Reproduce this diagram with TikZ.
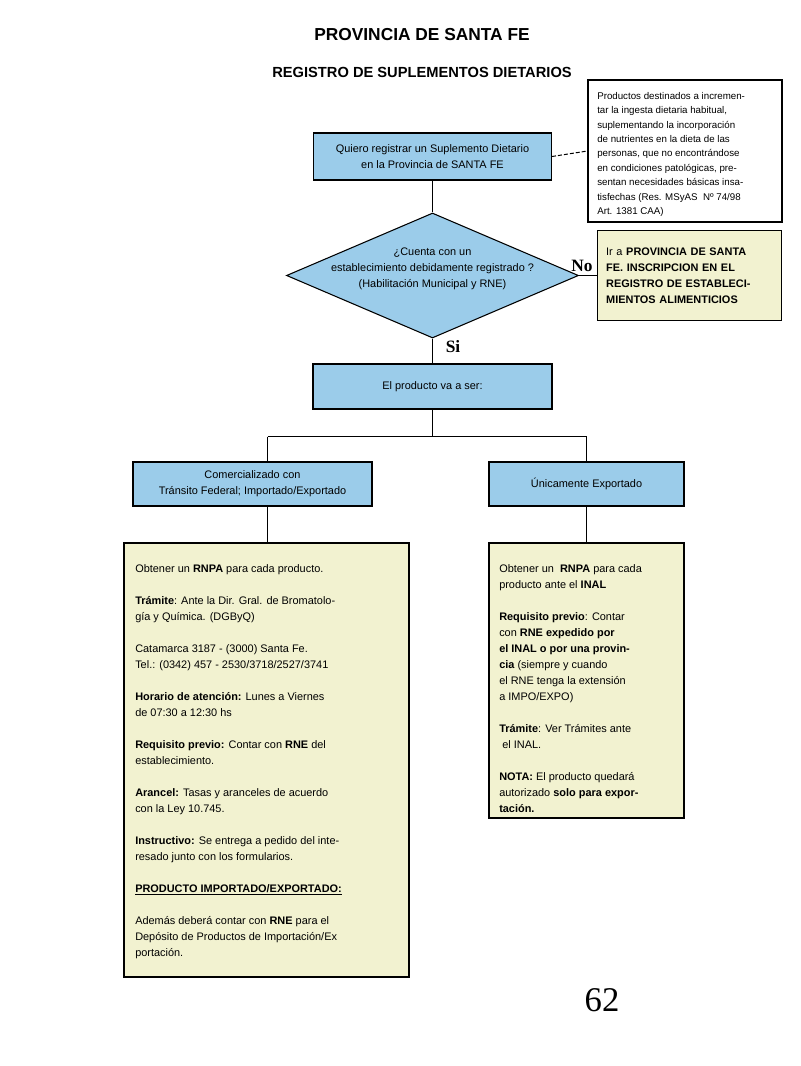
\documentclass[tikz,border=0pt]{standalone}
\usepackage{fontspec}
\setmainfont{Liberation Sans}
\newfontfamily\timesfont{Liberation Serif}
\usetikzlibrary{shapes.geometric}

\definecolor{celeste}{RGB}{155,204,234}
\definecolor{crema}{RGB}{242,242,208}

\tikzset{
  caja/.style={draw, line width=0.8pt, fill=celeste, inner sep=0pt, align=center,
    font=\fontsize{8.2}{12}\selectfont},
  hoja/.style={draw, line width=0.8pt, fill=crema, inner sep=0pt},
  texto/.style={inner sep=0pt, align=left, anchor=north west,
    font=\fontsize{8.2}{12}\selectfont},
  linea/.style={line width=0.75pt},
  etiqueta/.style={font=\timesfont\fontsize{13}{15}\selectfont\bfseries},
}

\begin{document}
\begin{tikzpicture}[x=0.75pt,y=-0.75pt]
            \useasboundingbox (0,0) rectangle (800,1066);
            % titulos
            \node[font=\fontsize{13}{15}\selectfont\bfseries] (titulo) at (422,35) {PROVINCIA DE SANTA FE};
            \node[font=\fontsize{11}{13}\selectfont\bfseries] (subtitulo) at (422,72) {REGISTRO DE SUPLEMENTOS DIETARIOS};
            % inicio y definicion
            \node[caja, minimum width=178.5pt, minimum height=35.25pt] (quiero) at (432.5,156.5)
                {Quiero registrar un Suplemento Dietario\\en la Provincia de SANTA FE};
            \node[draw, line width=0.8pt, fill=white, minimum width=145.5pt, minimum height=106.5pt] (nota) at (685,151) {};
            \node[texto, font=\fontsize{7.3}{10.8}\selectfont] (notatexto) at (597,92)
                {Productos destinados a incremen-\\tar la ingesta dietaria habitual,\\suplementando la incorporación\\de nutrientes en la dieta de las\\personas, que no encontrándose\\en condiciones patológicas, pre-\\sentan necesidades básicas insa-\\tisfechas (Res. MSyAS~ Nº 74/98\\Art. 1381 CAA)};
            % pregunta
            \node[diamond, draw, line width=0.8pt, fill=celeste, inner sep=0pt,
                  minimum width=219pt, minimum height=93.75pt] (cuenta) at (432.5,275.5) {};
            \node[align=center, inner sep=0pt, font=\fontsize{8.2}{12}\selectfont] (cuentatexto) at (432.5,269)
                {¿Cuenta con un\\establecimiento debidamente registrado ?\\(Habilitación Municipal y RNE)};
            \node[etiqueta] (no) at (582,266) {No};
            \node[etiqueta] (si) at (453,347) {Si};
            \node[hoja, text width=125pt, inner xsep=6.75pt, align=left, minimum height=67.5pt,
                  font=\fontsize{8.2}{12}\selectfont] (ir) at (689.5,275.5)
                {Ir a \textbf{PROVINCIA DE SANTA}\\\textbf{FE. INSCRIPCION EN EL}\\\textbf{REGISTRO DE ESTABLECI-}\\\textbf{MIENTOS ALIMENTICIOS}};
            % destino del producto
            \node[caja, minimum width=179.25pt, minimum height=33.75pt] (producto) at (432.5,386.5) {El producto va a ser:};
            \node[caja, minimum width=179.25pt, minimum height=33pt] (comerc) at (252.5,484)
                {Comercializado con\\Tránsito Federal; Importado/Exportado};
            \node[caja, minimum width=146.25pt, minimum height=33pt] (unicamente) at (586.5,484) {Únicamente Exportado};
            % requisitos
            \node[hoja, minimum width=213.75pt, minimum height=325.5pt] (detalleA) at (266.5,760) {};
            \node[texto] (detalleAtexto) at (135,564)
                {Obtener un \textbf{RNPA} para cada producto.\\[12pt]
                 \textbf{Trámite}: Ante la Dir. Gral. de Bromatolo-\\gía y Química. (DGByQ)\\[12pt]
                 Catamarca 3187 - (3000) Santa Fe.\\Tel.: (0342) 457 - 2530/3718/2527/3741\\[12pt]
                 \textbf{Horario de atención:} Lunes a Viernes\\de 07:30 a 12:30 hs\\[12pt]
                 \textbf{Requisito previo:} Contar con \textbf{RNE} del\\establecimiento.\\[12pt]
                 \textbf{Arancel:} Tasas y aranceles de acuerdo\\con la Ley 10.745.\\[12pt]
                 \textbf{Instructivo:} Se entrega a pedido del inte-\\resado junto con los formularios.\\[12pt]
                 \underline{\textbf{PRODUCTO IMPORTADO/EXPORTADO:}}\\[12pt]
                 Además deberá contar con \textbf{RNE} para el\\Depósito de Productos de Importación/Ex\\portación.};
            \node[hoja, minimum width=146.25pt, minimum height=206.25pt] (detalleB) at (586.5,680.5) {};
            \node[texto] (detalleBtexto) at (499,564)
                {Obtener un~ \textbf{RNPA} para cada\\producto ante el \textbf{INAL}\\[12pt]
                 \textbf{Requisito previo}: Contar\\con \textbf{RNE expedido por}\\\textbf{el INAL o por una provin-}\\\textbf{cia} (siempre y cuando\\el RNE tenga la extensión\\a IMPO/EXPO)\\[12pt]
                 \textbf{Trámite}: Ver Trámites ante\\\ el INAL.\\[12pt]
                 \textbf{NOTA:} El producto quedará\\autorizado \textbf{solo para expor-}\\\textbf{tación.}};
            \node[font=\timesfont\fontsize{26}{30}\selectfont] (pagina) at (602,1000) {62};
            % conectores
            \coordinate (rama) at (432.5,436.5);
            \coordinate (ramaI) at (267.5,436.5);
            \coordinate (ramaD) at (586.5,436.5);
            \draw[linea, dash pattern=on 3pt off 1.5pt] (quiero.east) -- (nota.west);
            \draw[linea] (quiero.south) -- (cuenta.north);
            \draw[linea] (cuenta.east) -- (ir.west);
            \draw[linea] (cuenta.south) -- (producto.north);
            \draw[linea] (producto.south) -- (rama);
            \draw[linea] (ramaI) -- (ramaD);
            \draw[linea] (ramaI) -- (ramaI |- comerc.north);
            \draw[linea] (ramaD) -- (unicamente.north);
            \draw[linea] (ramaI |- comerc.south) -- (ramaI |- detalleA.north);
            \draw[linea] (unicamente.south) -- (detalleB.north);
        \end{tikzpicture}
\end{document}
